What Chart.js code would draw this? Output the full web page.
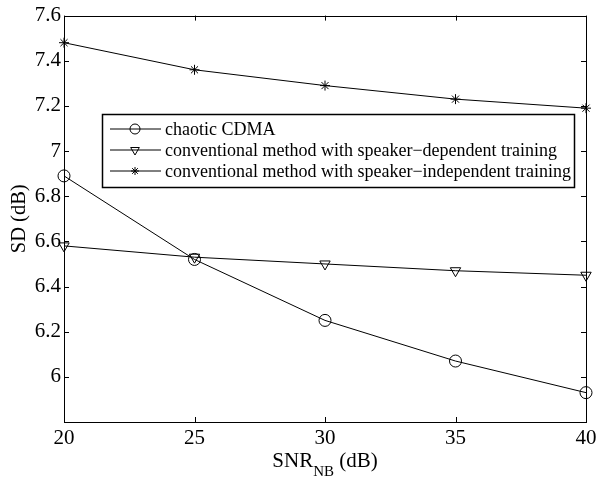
<!DOCTYPE html>
<html>
<head>
<meta charset="utf-8">
<script src="https://cdn.jsdelivr.net/npm/chart.js@4/dist/chart.umd.min.js"></script>
<style>
  html, body { margin: 0; padding: 0; background: #fff; }
  #wrap { width: 601px; height: 482px; }
</style>
</head>
<body>
<div id="wrap"><canvas id="c" width="601" height="482"></canvas></div>
<script>
// SD vs SNR_NB — MATLAB-style line plot
const snr = [20, 25, 30, 35, 40];
const chaoticCdma = [6.89, 6.52, 6.25, 6.07, 5.93];
const speakerDep = [6.58, 6.53, 6.50, 6.47, 6.45];
const speakerIndep = [7.48, 7.36, 7.29, 7.23, 7.19];
const seriesLabels = [
  'chaotic CDMA',
  'conventional method with speaker\u2212dependent training',
  'conventional method with speaker\u2212independent training'
];
const xTicks = [20, 25, 30, 35, 40];
const yTicks = [5.8, 6, 6.2, 6.4, 6.6, 6.8, 7, 7.2, 7.4, 7.6];

const SERIF = '"Liberation Serif", "Times New Roman", serif';

const mk = (vals, label, style, rot) => ({
  label,
  data: vals.map((v, i) => ({ x: snr[i], y: v })),
  borderColor: '#000',
  backgroundColor: 'rgba(0,0,0,0)',
  borderWidth: 1,
  pointStyle: style,
  pointRotation: rot || 0,
  pointRadius: style === 'star' ? 5 : 6,
  pointBorderColor: '#000',
  pointBorderWidth: 1,
  pointBackgroundColor: 'rgba(0,0,0,0)',
  tension: 0,
  clip: false
});

const datasets = [
  mk(chaoticCdma, seriesLabels[0], 'circle'),
  mk(speakerDep, seriesLabels[1], 'triangle', 180),
  mk(speakerIndep, seriesLabels[2], 'star')
];

// inward ticks, box, legend, axis titles
const matlabBits = {
  id: 'matlabBits',
  afterDraw(chart) {
    const { ctx, chartArea: a, scales } = chart;
    ctx.save();
    ctx.strokeStyle = '#000';
    ctx.lineWidth = 1;
    ctx.strokeRect(Math.round(a.left) + 0.5, Math.round(a.top) + 0.5,
      Math.round(a.right - a.left), Math.round(a.bottom - a.top));
    ctx.beginPath();
    xTicks.forEach(v => {
      const x = Math.round(scales.x.getPixelForValue(v)) + 0.5;
      ctx.moveTo(x, a.bottom); ctx.lineTo(x, a.bottom - 5);
      ctx.moveTo(x, a.top); ctx.lineTo(x, a.top + 5);
    });
    yTicks.forEach(v => {
      const y = Math.round(scales.y.getPixelForValue(v)) + 0.5;
      ctx.moveTo(a.left, y); ctx.lineTo(a.left + 5, y);
      ctx.moveTo(a.right, y); ctx.lineTo(a.right - 5, y);
    });
    ctx.stroke();

    // legend
    const lx = 102, ly = 114, lw = 472, lh = 73;
    ctx.fillStyle = '#fff';
    ctx.fillRect(lx, ly, lw, lh);
    ctx.lineWidth = 1.5;
    ctx.strokeRect(lx + 0.5, ly + 0.5, lw, lh);
    ctx.lineWidth = 1;
    datasets.forEach((ds, i) => {
      const y = ly + 15 + i * 21;
      ctx.beginPath();
      ctx.moveTo(lx + 8, y); ctx.lineTo(lx + 59, y);
      ctx.stroke();
      ctx.fillStyle = 'rgba(0,0,0,0)';
      Chart.helpers.drawPoint(ctx, {
        pointStyle: ds.pointStyle, rotation: ds.pointRotation,
        radius: ds.pointStyle === 'star' ? 4 : 5, borderWidth: 1
      }, lx + 33, y);
      ctx.fillStyle = '#000';
      ctx.font = '18px ' + SERIF;
      ctx.textBaseline = 'middle';
      ctx.fillText(ds.label, lx + 63, y + 1);
    });

    // x title with subscript
    ctx.fillStyle = '#000';
    ctx.textBaseline = 'alphabetic';
    ctx.font = '21px ' + SERIF;
    const t1 = 'SNR', t3 = ' (dB)';
    const sub = 'NB';
    const w1 = ctx.measureText(t1).width, w3 = ctx.measureText(t3).width;
    ctx.font = '15px ' + SERIF;
    const w2 = ctx.measureText(sub).width;
    const cx = (a.left + a.right) / 2;
    const x0 = cx - (w1 + w2 + w3) / 2;
    const by = 467;
    ctx.font = '21px ' + SERIF;
    ctx.fillText(t1, x0, by);
    ctx.font = '15px ' + SERIF;
    ctx.fillText(sub, x0 + w1, by + 9);
    ctx.font = '21px ' + SERIF;
    ctx.fillText(t3, x0 + w1 + w2, by);

    // y title
    ctx.font = '20.5px ' + SERIF;
    ctx.translate(25, (a.top + a.bottom) / 2);
    ctx.rotate(-Math.PI / 2);
    ctx.textAlign = 'center';
    ctx.fillText('SD (dB)', 0, 0);
    ctx.restore();
  }
};

new Chart(document.getElementById('c'), {
  type: 'line',
  data: { datasets },
  options: {
    responsive: false,
    animation: false,
    layout: { padding: { top: 12, right: 15, left: 0, bottom: 0 } },
    plugins: { legend: { display: false }, tooltip: { enabled: false } },
    scales: {
      x: {
        type: 'linear', min: 20, max: 40,
        afterBuildTicks: s => { s.ticks = xTicks.map(v => ({ value: v })); },
        afterFit: s => { s.height = 60; },
        grid: { display: false, drawTicks: false },
        border: { display: false },
        ticks: { color: '#000', padding: 4, font: { family: SERIF, size: 21 } }
      },
      y: {
        type: 'linear', min: 5.8, max: 7.6,
        afterBuildTicks: s => { s.ticks = yTicks.map(v => ({ value: v })); },
        afterFit: s => { s.width = 64; },
        grid: { display: false, drawTicks: false },
        border: { display: false },
        ticks: {
          color: '#000', padding: 3, font: { family: SERIF, size: 21 },
          callback: v => (Math.abs(v - 5.8) < 1e-9 ? '' : String(Math.round(v * 10) / 10))
        }
      }
    }
  },
  plugins: [matlabBits]
});
</script>
</body>
</html>
